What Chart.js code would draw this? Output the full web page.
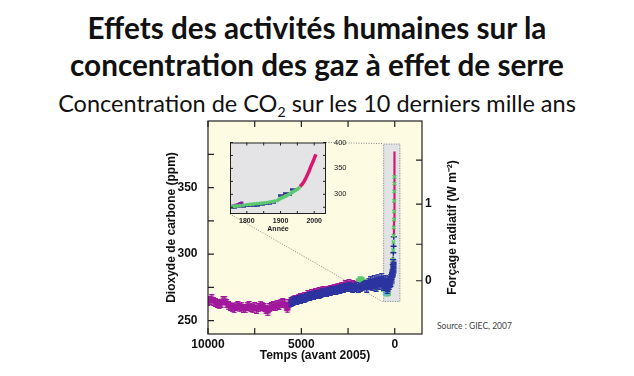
<!DOCTYPE html>
<html>
<head>
<meta charset="utf-8">
<script src="https://cdn.jsdelivr.net/npm/chart.js@4.4.1/dist/chart.umd.min.js"></script>
<style>
  html, body { margin: 0; padding: 0; background: #fff; }
  body { width: 634px; height: 376px; position: relative; overflow: hidden; font-family: Lato, "Open Sans", sans-serif; color: #111; }
  .t { position: absolute; left: 0; width: 634px; text-align: center; white-space: nowrap; }
  #t1 { top: 9px; font-weight: bold; font-size: 29.7px; line-height: 37px; }
  #t2 { top: 88px; font-size: 23.5px; line-height: 30px; }
  #t2 sub { font-size: 60%; vertical-align: -0.35em; line-height: 0; }
  #src { position: absolute; left: 437px; top: 321px; font-size: 8.5px; color: #444; white-space: nowrap; }
  #main { position: absolute; left: 0; top: 0; }
  #inset { position: absolute; left: 225px; top: 130px; }
</style>
</head>
<body>
<div class="t" id="t1">Effets des activités humaines sur la<br>concentration des gaz à effet de serre</div>
<div class="t" id="t2">Concentration de CO<sub>2</sub> sur les 10 derniers mille ans</div>
<div id="src">Source : GIEC, 2007</div>
<canvas id="main" width="634" height="376"></canvas>
<canvas id="inset" width="125" height="104"></canvas>
<script>
// ---- main chart: years before 2005 / ppm ----
const purpleYears = [10000, 9900, 9800, 9700, 9600, 9500, 9400, 9300, 9200, 9100, 9000, 8900, 8800, 8700, 8600, 8500, 8400, 8300, 8200, 8100, 8000, 7900, 7800, 7700, 7600, 7500, 7400, 7300, 7200, 7100, 7000, 6900, 6800, 6700, 6600, 6500, 6400, 6300, 6200, 6100, 6000, 5900, 5800, 5750, 5650, 5550, 5450, 5350, 5250, 5150, 5050, 4950, 4850, 4750, 4650, 4550, 4450, 4350, 4250, 4150, 4050, 3950, 3850, 3750, 3650, 3550, 3450, 3350, 3250, 3150, 3050, 2950, 2850, 2750, 2650, 2550, 2450, 2350, 2250, 2185];
const purplePpm   = [264.4, 265.2, 266.5, 264.5, 263.8, 263.0, 262.0, 263.2, 265.0, 265.3, 262.8, 261.2, 261.0, 259.8, 259.0, 260.8, 261.3, 259.6, 260.9, 259.4, 259.0, 260.8, 261.3, 260.2, 259.0, 260.3, 258.6, 259.8, 261.6, 260.8, 259.6, 258.2, 256.8, 259.8, 260.4, 261.3, 260.8, 262.2, 261.7, 262.8, 263.4, 262.8, 260.4, 258.8, 262.6, 264.4, 264.8, 266.0, 265.6, 266.8, 267.4, 267.0, 268.3, 268.3, 269.4, 269.2, 270.4, 270.2, 271.2, 270.7, 271.6, 271.2, 272.4, 272.0, 273.0, 272.7, 273.6, 273.5, 274.4, 274.0, 275.2, 274.9, 275.9, 275.7, 276.9, 276.7, 277.8, 276.3, 276.9, 276.2];

const blueYears = [5550, 5450, 5350, 5250, 5150, 5050, 4950, 4850, 4750, 4650, 4550, 4450, 4350, 4250, 4150, 4050, 3950, 3850, 3750, 3650, 3550, 3450, 3350, 3250, 3150, 3050, 2950, 2850, 2750, 2650, 2550, 2450, 2350, 2250, 2150, 2050, 1950, 1850, 1750, 1650, 1550, 1500, 1450, 1400, 1350, 1300, 1250, 1200, 1150, 1100, 1050, 1000, 950, 900, 850, 800, 750, 700, 650, 600, 550, 500, 450, 400, 380, 350, 318, 290, 260, 230, 200, 170, 140, 110, 90, 70, 53];
const bluePpm   = [264.0, 264.5, 265.0, 265.3, 265.8, 266.0, 266.5, 267.0, 267.3, 268.0, 268.3, 268.8, 269.0, 269.5, 269.8, 270.0, 270.5, 270.8, 271.0, 271.5, 271.8, 272.0, 272.5, 272.8, 273.0, 273.5, 273.8, 274.0, 274.5, 274.8, 275.0, 275.5, 275.0, 274.5, 275.0, 275.5, 274.5, 275.0, 276.0, 276.5, 277.0, 274.5, 277.5, 279.0, 276.5, 280.0, 277.0, 275.5, 278.0, 281.0, 277.5, 275.0, 278.5, 282.0, 279.0, 276.5, 279.4, 282.5, 278.5, 276.0, 277.5, 281.0, 276.0, 273.5, 275.0, 279.0, 280.0, 276.5, 278.0, 282.0, 279.0, 283.0, 284.0, 285.5, 287.0, 290.0, 293.0];

const greenYears = [1950, 1850, 1750, 1650, 1560, 1450, 1300, 1150, 1030, 600, 500, 420, 340];
const greenPpm   = [280.0, 281.5, 281.0, 279.5, 278.5, 277.5, 276.5, 275.5, 274.0, 273.5, 271.5, 270.0, 270.5];

const cyanYears = [2300, 2200, 1900, 1750, 520, 430];
const cyanPpm   = [274.0, 274.5, 276.0, 275.5, 270.0, 271.0];

const spikeGreenYears = [250, 200, 150, 120, 100, 85, 70, 60, 50, 42, 35, 28, 22, 17, 12];
const spikeGreenPpm   = [278, 283, 286, 290, 296, 303, 309, 314, 320, 326, 332, 340, 347, 353, 358];

const spikeNavyYears = [250, 200, 150, 120, 105, 90, 75, 62, 50];
const spikeNavyPpm   = [281, 283, 285, 288, 292, 296, 301, 306, 313];

const spikeRedYears = [47, 40, 35, 30, 25, 20, 15, 10, 5, 0];
const spikeRedPpm   = [315, 320, 325, 330, 338, 343, 353, 361, 369, 377];

const xTicks = [10000, 7500, 5000, 2500, 0];
const xLabeled = [10000, 5000, 0];
const yTicks = [250, 275, 300, 325, 350, 375];
const yLabeled = [250, 300, 350];
const forcingTicks = [0, 0.5, 1, 1.5];
const forcingLabeled = [0, 1];

// ---- inset: calendar years / ppm ----
const insPurpleYears = [1750, 1756, 1762, 1768, 1774, 1780, 1785];
const insPurplePpm   = [276, 276.5, 277, 278.5, 280, 282, 283];

const insNavyYears = [1752, 1762, 1772, 1790, 1800, 1810, 1820, 1830, 1846, 1856, 1866, 1878, 1902, 1916, 1925, 1937];
const insNavyPpm   = [274.0, 275.0, 276.0, 276.5, 277.5, 278.5, 278.5, 279.0, 280.5, 281.5, 282.5, 285.0, 297.0, 302.0, 299.0, 309.0];

const insGreenYears = [1752, 1758, 1765, 1772, 1780, 1790, 1800, 1808, 1815, 1822, 1830, 1838, 1845, 1852, 1860, 1868, 1875, 1882, 1890, 1895, 1900, 1905, 1910, 1915, 1920, 1925, 1930, 1935, 1940, 1945, 1950, 1955];
const insGreenPpm   = [276, 276.5, 277, 277.5, 278, 279, 280, 280.5, 281, 281.5, 282, 282.5, 283, 283.5, 284, 285, 286, 287, 288, 290, 292, 293.5, 295, 296.5, 298, 300, 302, 304, 306, 308, 310, 312.5];

const insRedYears = [1958, 1965, 1970, 1975, 1980, 1985, 1990, 1995, 2000, 2005];
const insRedPpm   = [315, 320, 325, 331, 338, 345, 354, 361, 369, 377];

const insXTicks = [1800, 1850, 1900, 1950, 2000];
const insXLabeled = [1800, 1900, 2000];
const insYTicks = [275, 300, 325, 350, 375, 400];
const insYLabeled = [300, 350, 400];

const pts = (xs, ys) => xs.map((x, i) => ({ x: x, y: ys[i] }));
const toPpm = f => 280 * Math.exp(f / 5.35);
const plain = v => String(v);

const axisFont = { family: "'Liberation Sans', Arial, sans-serif", size: 12, weight: 'bold' };
const smallFont = { family: "'Liberation Sans', Arial, sans-serif", size: 7, weight: 'bold' };

const INSET_LEFT = 225, INSET_TOP = 130;

// square marker with an error bar, as in the ice-core series
function barMarker(color) {
  const c = document.createElement('canvas');
  c.width = 7; c.height = 9;
  const g = c.getContext('2d');
  g.fillStyle = color;
  g.fillRect(1, 0, 5, 1.3);
  g.fillRect(1, 7.7, 5, 1.3);
  g.fillRect(2.8, 0, 1.4, 9);
  g.fillRect(0.5, 2.5, 6, 4);
  return c;
}
// short horizontal dash for the inset
function dashMarker(color) {
  const c = document.createElement('canvas');
  c.width = 6; c.height = 3;
  const g = c.getContext('2d');
  g.fillStyle = color;
  g.fillRect(0, 0.3, 6, 2.4);
  return c;
}

function drawTicks(ctx, area, xScale, yScale, xs, ys, len) {
  ctx.beginPath();
  xs.forEach(v => {
    const px = xScale.getPixelForValue(v);
    ctx.moveTo(px, area.bottom); ctx.lineTo(px, area.bottom - len);
    ctx.moveTo(px, area.top); ctx.lineTo(px, area.top + len);
  });
  ys.forEach(v => {
    const py = yScale.getPixelForValue(v);
    ctx.moveTo(area.left, py); ctx.lineTo(area.left + len, py);
  });
  ctx.stroke();
}

// ---- inset chart ----
const insetDecor = {
  id: 'insetDecor',
  beforeDraw(chart) {
    const { ctx, chartArea: a } = chart;
    ctx.save();
    ctx.fillStyle = '#e4e4e6';
    ctx.fillRect(a.left, a.top, a.right - a.left, a.bottom - a.top);
    ctx.restore();
  },
  afterDatasetsDraw(chart) {
    const { ctx, chartArea: a, scales } = chart;
    ctx.save();
    ctx.strokeStyle = '#222';
    ctx.lineWidth = 1;
    drawTicks(ctx, a, scales.x, scales.y, insXTicks, insYTicks, 3);
    ctx.beginPath();
    insYTicks.forEach(v => {
      const py = scales.y.getPixelForValue(v);
      ctx.moveTo(a.right, py); ctx.lineTo(a.right - 3, py);
    });
    ctx.stroke();
    ctx.strokeRect(a.left + 0.5, a.top + 0.5, a.right - a.left - 1, a.bottom - a.top - 1);
    ctx.restore();
  }
};

const inset = new Chart(document.getElementById('inset'), {
  type: 'scatter',
  data: {
    datasets: [
      { data: pts(insGreenYears, insGreenPpm), backgroundColor: '#5cc870', borderColor: '#5cc870', pointStyle: 'circle', pointRadius: 1.9, borderWidth: 0, clip: 0 },
      { data: pts(insPurpleYears, insPurplePpm), backgroundColor: '#8a1aa6', borderColor: '#8a1aa6', pointStyle: 'rect', pointRadius: 2.3, borderWidth: 0, clip: 0 },
      { data: pts(insNavyYears, insNavyPpm), pointStyle: dashMarker('#222c8a'), pointRadius: 3, clip: 0 },
      { data: pts(insRedYears, insRedPpm), showLine: true, borderColor: '#d8186c', borderWidth: 3.5, pointRadius: 0, clip: 0 }
    ]
  },
  options: {
    responsive: false,
    animation: false,
    layout: { padding: { top: 7.5, left: 0, right: 0, bottom: 0 } },
    plugins: { legend: { display: false }, tooltip: { enabled: false } },
    scales: {
      x: {
        type: 'linear', min: 1750, max: 2035,
        afterBuildTicks: s => { s.ticks = insXLabeled.map(v => ({ value: v })); },
        afterFit: s => { s.height = 20; },
        ticks: { font: smallFont, color: '#222', padding: 3.3, maxRotation: 0, autoSkip: false, callback: plain },
        grid: { display: false, drawTicks: false },
        border: { display: false },
        title: { display: true, text: 'Année', font: smallFont, color: '#222', padding: { top: 0, bottom: 0.3 } }
      },
      y: {
        position: 'right', min: 262, max: 400,
        afterBuildTicks: s => { s.ticks = insYLabeled.map(v => ({ value: v })); },
        afterFit: s => { s.width = 24; },
        ticks: { font: { family: "'Liberation Sans', Arial, sans-serif", size: 7.5 }, color: '#222', padding: 8, callback: plain },
        grid: { display: false, drawTicks: false },
        border: { display: false }
      }
    }
  },
  plugins: [insetDecor]
});

// ---- main chart ----
const mainDecor = {
  id: 'mainDecor',
  beforeDraw(chart) {
    const { ctx, chartArea: a } = chart;
    ctx.save();
    ctx.fillStyle = '#fdfbe1';
    ctx.fillRect(a.left, a.top, a.right - a.left, a.bottom - a.top);
    ctx.restore();
  },
  beforeDatasetsDraw(chart) {
    const { ctx, scales } = chart;
    const bx0 = scales.x.getPixelForValue(620), bx1 = scales.x.getPixelForValue(-300);
    const by0 = scales.y.getPixelForValue(383), by1 = scales.y.getPixelForValue(264);
    const ia = inset.chartArea;
    ctx.save();
    ctx.fillStyle = '#e2e3e5';
    ctx.fillRect(bx0, by0, bx1 - bx0, by1 - by0);
    ctx.strokeStyle = '#8a8a8a';
    ctx.lineWidth = 1;
    ctx.setLineDash([1, 1.5]);
    ctx.strokeRect(bx0 + 0.5, by0 + 0.5, bx1 - bx0 - 1, by1 - by0 - 1);
    ctx.beginPath();
    ctx.moveTo(INSET_LEFT + ia.right, INSET_TOP + ia.top);
    ctx.lineTo(bx0, by0);
    ctx.moveTo(INSET_LEFT + ia.left, INSET_TOP + ia.bottom);
    ctx.lineTo(bx0, by1);
    ctx.stroke();
    ctx.restore();
  },
  afterDatasetsDraw(chart) {
    const { ctx, chartArea: a, scales } = chart;
    ctx.save();
    ctx.strokeStyle = '#222';
    ctx.lineWidth = 1.2;
    drawTicks(ctx, a, scales.x, scales.y, xTicks, yTicks, 6);
    ctx.beginPath();
    forcingTicks.forEach(f => {
      const py = scales.y2.getPixelForValue(toPpm(f));
      ctx.moveTo(a.right, py); ctx.lineTo(a.right - 6, py);
    });
    ctx.stroke();
    ctx.strokeRect(a.left, a.top, a.right - a.left, a.bottom - a.top);
    // right axis title, reading upward like the left one
    ctx.fillStyle = '#111';
    ctx.font = "bold 12px 'Liberation Sans', Arial, sans-serif";
    ctx.textAlign = 'center';
    ctx.textBaseline = 'middle';
    ctx.translate(453, (a.top + a.bottom) / 2);
    ctx.rotate(-Math.PI / 2);
    ctx.fillText('Forçage radiatif (W m⁻²)', 0, 0);
    ctx.restore();
  }
};

new Chart(document.getElementById('main'), {
  type: 'scatter',
  data: {
    datasets: [
      { data: pts(blueYears, bluePpm), pointStyle: barMarker('#2c34a0'), pointRadius: 4, clip: 0 },
      { data: pts(purpleYears, purplePpm), pointStyle: barMarker('#a0189c'), pointRadius: 4, clip: 0 },
      { data: pts(cyanYears, cyanPpm), backgroundColor: '#5ab6e6', pointStyle: 'rect', pointRadius: 2.5, borderWidth: 0, clip: 0 },
      { data: pts(greenYears, greenPpm), backgroundColor: '#5cc870', pointStyle: 'rect', pointRadius: 3.6, borderWidth: 0, clip: 0 },
      { data: pts(spikeGreenYears, spikeGreenPpm), borderColor: '#5cc870', backgroundColor: '#5cc870', pointStyle: 'crossRot', pointRadius: 2.5, borderWidth: 1.5, clip: 0 },
      { data: pts(spikeNavyYears, spikeNavyPpm), borderColor: '#1f2a85', backgroundColor: '#1f2a85', pointStyle: 'cross', pointRadius: 3, borderWidth: 1.5, clip: 0 },
      { data: pts(spikeRedYears, spikeRedPpm), showLine: true, borderColor: '#d8186c', borderWidth: 2.2, pointRadius: 0, clip: 0 }
    ]
  },
  options: {
    responsive: false,
    animation: false,
    layout: { padding: { left: 160, right: 172, top: 121, bottom: 12 } },
    plugins: { legend: { display: false }, tooltip: { enabled: false } },
    scales: {
      x: {
        type: 'linear', reverse: true, min: -1460, max: 10000,
        afterBuildTicks: s => { s.ticks = xLabeled.map(v => ({ value: v })); },
        afterFit: s => { s.height = 30; },
        ticks: { font: axisFont, color: '#111', padding: 3, maxRotation: 0, autoSkip: false, callback: plain },
        grid: { display: false, drawTicks: false },
        border: { display: false },
        title: { display: true, text: 'Temps (avant 2005)', font: axisFont, color: '#111', padding: { top: 0, bottom: 1.3 } }
      },
      y: {
        position: 'left', min: 240, max: 400,
        afterBuildTicks: s => { s.ticks = yLabeled.map(v => ({ value: v })); },
        afterFit: s => { s.width = 48; },
        ticks: { font: axisFont, color: '#111', padding: 10.5, callback: plain },
        grid: { display: false, drawTicks: false },
        border: { display: false },
        title: { display: true, text: 'Dioxyde de carbone (ppm)', font: axisFont, color: '#111', padding: { top: 4, bottom: 0 } }
      },
      y2: {
        position: 'right', min: 240, max: 400,
        afterBuildTicks: s => { s.ticks = forcingLabeled.map(f => ({ value: toPpm(f), label: String(f) })); },
        afterFit: s => { s.width = 40; },
        ticks: { font: axisFont, color: '#111', padding: 3, callback: (v, i, ticks) => ticks[i].label },
        grid: { display: false, drawTicks: false },
        border: { display: false }
      }
    }
  },
  plugins: [mainDecor]
});
</script>
</body>
</html>
